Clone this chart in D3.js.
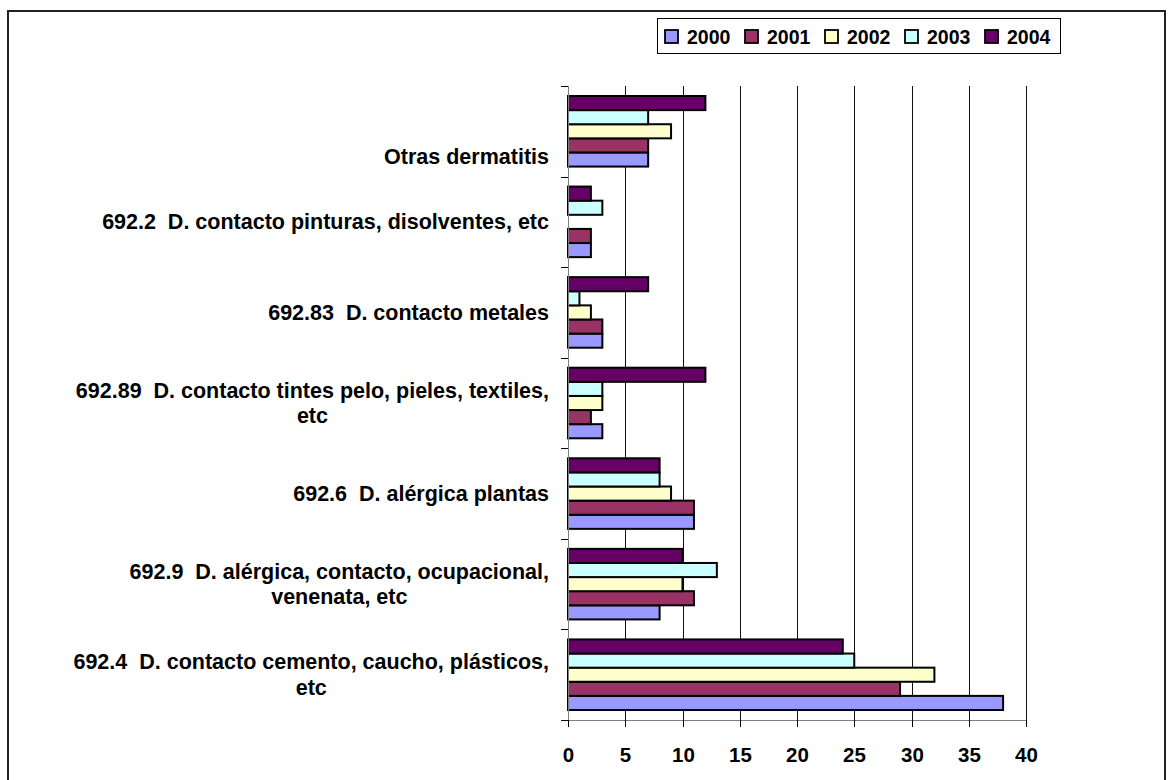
<!DOCTYPE html>
<html>
<head>
<meta charset="utf-8">
<script src="https://cdn.jsdelivr.net/npm/d3@7"></script>
<style>
  body { margin: 0; background: #fff; }
  text { font-family: Arial, "Liberation Sans", sans-serif; font-weight: bold; fill: #000; }
</style>
</head>
<body>
<script>
// series, categories top to bottom
var years = ["2000", "2001", "2002", "2003", "2004"];
var categories = ["otras", "692.2", "692.83", "692.89", "692.6", "692.9", "692.4"];
var labelLines = [
    ["", "", "Otras dermatitis"],
    ["692.2  D. contacto pinturas, disolventes, etc"],
    ["692.83  D. contacto metales"],
    ["692.89  D. contacto tintes pelo, pieles, textiles,", "etc"],
    ["692.6  D. alérgica plantas"],
    ["692.9  D. alérgica, contacto, ocupacional,", "venenata, etc"],
    ["692.4  D. contacto cemento, caucho, plásticos,", "etc"]
];
var v2000 = [7, 2, 3, 3, 11, 8, 38];
var v2001 = [7, 2, 3, 2, 11, 11, 29];
var v2002 = [9, 0, 2, 3, 9, 10, 32];
var v2003 = [7, 3, 1, 3, 8, 13, 25];
var v2004 = [12, 2, 7, 12, 8, 10, 24];
var xTicks = [0, 5, 10, 15, 20, 25, 30, 35, 40];

var seriesValues = [v2000, v2001, v2002, v2003, v2004];
var colors = ["#9999FF", "#993366", "#FFFFCC", "#CCFFFF", "#660066"];

var width = 1174, height = 780;
var plotLeft = 568, plotRight = 1026, plotTop = 86, plotBottom = 720;

var svg = d3.select("body").append("svg")
    .attr("width", width)
    .attr("height", height);

// outer frame
svg.append("rect")
    .attr("x", 8).attr("y", 11)
    .attr("width", 1157).attr("height", 800)
    .attr("fill", "#fff")
    .attr("stroke", "#222")
    .attr("stroke-width", 2);

var x = d3.scaleLinear().domain([0, 40]).range([plotLeft, plotRight]);
var y = d3.scaleBand().domain(categories).range([plotTop, plotBottom]).padding(0);
var step = y.bandwidth();
var pad = 10;
var yInner = d3.scaleBand()
    .domain(years.slice().reverse())
    .range([pad, step - pad]);

// gridlines
svg.append("g").selectAll("line")
    .data(xTicks.filter(function(t) { return t > 0; }))
    .enter().append("line")
    .attr("x1", function(d) { return Math.round(x(d)) + 0.5; })
    .attr("x2", function(d) { return Math.round(x(d)) + 0.5; })
    .attr("y1", plotTop).attr("y2", plotBottom)
    .attr("stroke", "#111")
    .attr("stroke-width", 1);

// bars
var rows = [];
categories.forEach(function(c, i) {
    years.forEach(function(yr, j) {
        rows.push({cat: c, year: yr, value: seriesValues[j][i], color: colors[j]});
    });
});

svg.append("g").selectAll("rect")
    .data(rows.filter(function(d) { return d.value > 0; }))
    .enter().append("rect")
    .attr("x", x(0))
    .attr("y", function(d) { return y(d.cat) + yInner(d.year); })
    .attr("width", function(d) { return x(d.value) - x(0); })
    .attr("height", yInner.bandwidth())
    .attr("fill", function(d) { return d.color; })
    .attr("stroke", "#000")
    .attr("stroke-width", 2);

// left axis
var yEdges = categories.map(function(c) { return y(c); }).concat([plotBottom]);
svg.append("line")
    .attr("x1", plotLeft + 0.5).attr("x2", plotLeft + 0.5)
    .attr("y1", plotTop).attr("y2", plotBottom)
    .attr("stroke", "#808080");
svg.append("g").selectAll("line")
    .data(yEdges)
    .enter().append("line")
    .attr("x1", plotLeft - 7).attr("x2", plotLeft)
    .attr("y1", function(d) { return Math.round(d) + 0.5; })
    .attr("y2", function(d) { return Math.round(d) + 0.5; })
    .attr("stroke", "#000");

// bottom axis
svg.append("line")
    .attr("x1", plotLeft).attr("x2", plotRight)
    .attr("y1", plotBottom + 0.5).attr("y2", plotBottom + 0.5)
    .attr("stroke", "#808080");
var xAxis = svg.append("g").selectAll("g")
    .data(xTicks)
    .enter().append("g")
    .attr("transform", function(d) { return "translate(" + (Math.round(x(d)) + 0.5) + "," + plotBottom + ")"; });
xAxis.append("line")
    .attr("y1", 0).attr("y2", 7)
    .attr("stroke", "#000");
xAxis.append("text")
    .attr("y", 42)
    .attr("text-anchor", "middle")
    .style("font-size", "20.5px")
    .text(function(d) { return d; });

// category labels
var lh = 25.5;
var labels = svg.append("g").selectAll("text")
    .data(categories)
    .enter().append("text")
    .style("font-size", "21.5px")
    .style("white-space", "pre")
    .attr("text-anchor", "middle");

labels.each(function(c, i) {
    var t = d3.select(this);
    var lines = labelLines[i];
    var cy = y(c) + step / 2;
    var y0 = cy - (lines.length - 1) * lh / 2 + 7.5;
    var spans = t.selectAll("tspan").data(lines).enter().append("tspan")
        .attr("y", function(d, k) { return y0 + k * lh; })
        .text(function(d) { return d; });
    var maxW = 0;
    spans.each(function() { maxW = Math.max(maxW, this.getComputedTextLength()); });
    spans.attr("x", 549 - maxW / 2);
});

// legend
var legend = svg.append("g");
legend.append("rect")
    .attr("x", 657.5).attr("y", 18.5)
    .attr("width", 403).attr("height", 35)
    .attr("fill", "#fff")
    .attr("stroke", "#000");
var item = legend.selectAll("g.item")
    .data(years)
    .enter().append("g")
    .attr("class", "item")
    .attr("transform", function(d, i) { return "translate(" + (665 + i * 80) + ",30)"; });
item.append("rect")
    .attr("width", 13).attr("height", 13)
    .attr("fill", function(d, i) { return colors[i]; })
    .attr("stroke", "#000")
    .attr("stroke-width", 1.8);
item.append("text")
    .attr("x", 22).attr("y", 13.5)
    .style("font-size", "19.5px")
    .text(function(d) { return d; });
</script>
</body>
</html>
